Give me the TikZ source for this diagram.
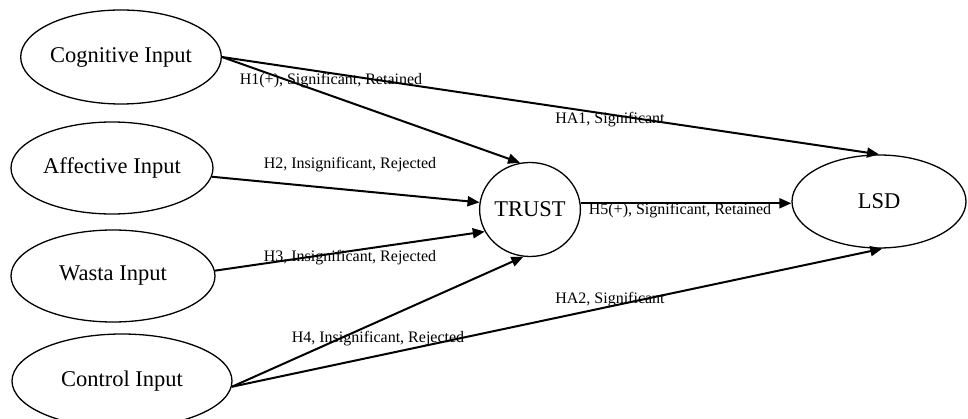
\documentclass[tikz,border=0pt]{standalone}
\usepackage{fontspec}
\setmainfont{Liberation Serif}
\usetikzlibrary{shapes.geometric,arrows.meta}
\begin{document}
\begin{tikzpicture}[x=1pt,y=-1pt,
  construct/.style={ellipse,draw,line width=1.3pt,inner sep=0pt,
    font=\fontsize{22.5}{26}\selectfont},
  link/.style={line width=2pt,-{Triangle[length=12pt,width=10pt]}},
  hyp/.style={font=\fontsize{16}{18}\selectfont,anchor=base,inner sep=0pt}]
\useasboundingbox (0,0) rectangle (968,419);

% constructs
\node[construct,minimum width=184pt,minimum height=94pt] (cog)  at (121,57)  {Cognitive Input};
\node[construct,minimum width=202pt,minimum height=92pt] (aff)  at (112,168) {Affective Input};
\node[construct,minimum width=204pt,minimum height=92pt] (wasta) at (113,276) {Wasta Input};
\node[construct,minimum width=220pt,minimum height=94pt] (ctrl) at (122,381) {Control Input};
\node[construct,minimum width=100pt,minimum height=94pt] (trust) at (530,209.5) {TRUST};
\node[construct,minimum width=174pt,minimum height=93pt] (lsd)  at (879,201.5) {LSD};

% hypothesised paths
\draw[link] (cog.east) -- (trust.102);
\draw[link] (cog.east) -- (lsd.north);
\draw[link] (aff.-5) -- (trust.172);
\draw[link] (wasta.3) -- (trust.206);
\draw[link] (ctrl.-3) -- (trust.262);
\draw[link] (ctrl.-3) -- (lsd.274);
\draw[link] (trust.7) -- (trust.7 -| lsd.west);

% path labels
\node[hyp] (l1) at (331,84.5) {H1(+), Significant, Retained};
\node[hyp] (l2) at (350,169) {H2, Insignificant, Rejected};
\node[hyp] (l3) at (350,262) {H3, Insignificant, Rejected};
\node[hyp] (l4) at (378,342) {H4, Insignificant, Rejected};
\node[hyp] (la1) at (610,124) {HA1, Significant};
\node[hyp] (la2) at (610,303) {HA2, Significant};
\node[hyp] (l5) at (680,215) {H5(+), Significant, Retained};
\end{tikzpicture}
\end{document}
